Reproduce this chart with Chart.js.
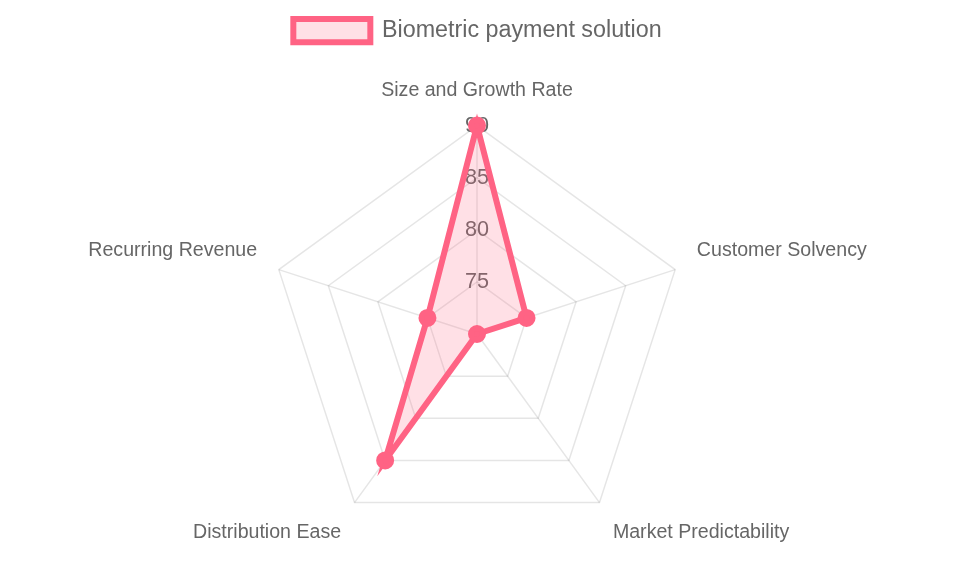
<!DOCTYPE html>
<html>
<head>
<meta charset="utf-8">
<script src="https://cdn.jsdelivr.net/npm/chart.js@4.4.0/dist/chart.umd.min.js"></script>
<style>
  html, body { margin: 0; padding: 0; background: #fff; }
  #wrap { width: 955px; height: 573px; }
</style>
</head>
<body>
<div id="wrap"><canvas id="myRadarChart"></canvas></div>
<script>
var criteria = ['Size and Growth Rate', 'Customer Solvency', 'Market Predictability', 'Distribution Ease', 'Recurring Revenue'];
var scores = [90, 75, 70, 85, 75];
var seriesName = 'Biometric payment solution';

// adds some space under the legend
var legendMargin = {
  id: 'legendMargin',
  beforeInit: function(chart) {
    var fit = chart.legend.fit;
    chart.legend.fit = function() {
      fit.bind(chart.legend)();
      this.height += 11;
    };
  }
};

var chartdata = {
  labels: criteria,
  datasets: [
    {
      label: seriesName,
      backgroundColor: 'rgba(255, 99, 132, 0.2)',
      borderColor: 'rgb(255, 99, 132)',
      pointBackgroundColor: 'rgb(255, 99, 132)',
      pointBorderColor: 'rgb(255, 99, 132)',
      borderWidth: 6,
      pointRadius: 6,
      data: scores
    }
  ]
};

var ctx = document.getElementById('myRadarChart');

var radarGraph = new Chart(ctx, {
  type: 'radar',
  data: chartdata,
  plugins: [legendMargin],
  options: {
    responsive: true,
    maintainAspectRatio: false,
    animation: false,
    plugins: {
      legend: {
        labels: {
          color: '#666',
          boxWidth: 77,
          padding: 19,
          font: { size: 23.3 }
        }
      }
    },
    scales: {
      r: {
        min: 70,
        max: 90,
        ticks: {
          stepSize: 5,
          color: '#666',
          showLabelBackdrop: false,
          font: { size: 21.6 }
        },
        grid: {
          color: 'rgba(0, 0, 0, 0.1)',
          lineWidth: 1.5
        },
        angleLines: {
          color: 'rgba(0, 0, 0, 0.1)',
          lineWidth: 1.5
        },
        pointLabels: {
          color: '#666',
          padding: 10,
          font: { size: 19.6 }
        }
      }
    }
  }
});
</script>
</body>
</html>
